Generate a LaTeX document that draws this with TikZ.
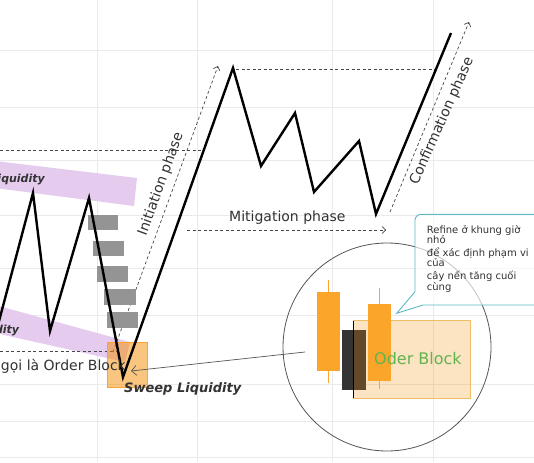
\documentclass[tikz,border=0pt]{standalone}
\usepackage{fontspec}
\setmainfont{DejaVu Sans}
\usetikzlibrary{arrows.meta}
\definecolor{gridc}{RGB}{234,234,234}
\definecolor{lav}{RGB}{229,204,238}
\definecolor{obor}{RGB}{245,140,0}
\definecolor{candle}{RGB}{251,165,42}
\definecolor{obbord}{RGB}{238,190,100}
\definecolor{darkc}{RGB}{52,52,52}
\definecolor{callc}{RGB}{95,185,196}
\definecolor{txt}{RGB}{50,50,50}
\definecolor{dashc}{RGB}{70,70,70}
\definecolor{obgreen}{RGB}{98,180,78}
\definecolor{grayb}{RGB}{148,148,148}
\definecolor{circc}{RGB}{85,85,85}
\begin{document}
\begin{tikzpicture}[x=1pt,y=-1pt,
  gridline/.style={draw=gridc,line width=0.6pt},
  dsh/.style={draw=dashc,line width=0.7pt,dash pattern=on 3pt off 2.5pt},
  tipb/.style={-{Straight Barb[length=3.5pt,width=7pt]}},
  price/.style={draw=black,line width=2.4pt,line join=miter,miter limit=10},
  lbl/.style={inner sep=0pt,text=txt,font=\fontsize{14}{16}\selectfont},
  liq/.style={inner sep=0pt,text=txt,font=\fontsize{11}{13}\selectfont\bfseries\itshape},
  note/.style={inner sep=0pt,anchor=base west,text=txt,font=\fontsize{10}{11}\selectfont},
  gbox/.style={fill=grayb},
  wick/.style={draw=candle,line width=1.5pt}]
\useasboundingbox (0,0) rectangle (534,462);
\clip (0,0) rectangle (534,462);
\fill[white] (0,0) rectangle (534,462);
% grid
\foreach \gx in {97,197,332,433} \draw[gridline] (\gx,0) -- (\gx,462);
\foreach \gy in {50,107,160,215,268,315,384,421,457} \draw[gridline] (0,\gy) -- (534,\gy);
% liquidity bands
\fill[lav] (-5,161) -- (137,178) -- (134,206) -- (-5,188) -- cycle;
\fill[lav] (-5,305) -- (130,342) -- (125,362) -- (-5,333) -- cycle;
\node[liq,anchor=base east] (liqtop) at (45,182.7) {Liquidity};
\node[liq,anchor=base east] (liqbot) at (19.3,333.3) {Liquidity};
% coordinates
\coordinate (z0) at (-6,340);
\coordinate (z1) at (33,193);
\coordinate (z2) at (50,331);
\coordinate (z3) at (89,198);
\coordinate (z4) at (123,377);
\coordinate (z5) at (233,68);
\coordinate (z6) at (261,166);
\coordinate (z7) at (295,113);
\coordinate (z8) at (314,192);
\coordinate (z9) at (359,141);
\coordinate (z10) at (376,214);
\coordinate (z11) at (451,33);
\coordinate (h1a) at (0,150); \coordinate (h1b) at (202,150);
\coordinate (h2a) at (0,351); \coordinate (h2b) at (117,351);
\coordinate (h3a) at (236,69); \coordinate (h3b) at (437,69);
\coordinate (ia) at (113,352); \coordinate (ib) at (218,66);
\coordinate (ma) at (187,230); \coordinate (mb) at (386,230);
\coordinate (ca) at (390,212); \coordinate (cb) at (469,22);
% dashed guides
\draw[dsh] (h1a) -- (h1b);
\draw[dsh] (h2a) -- (h2b);
\draw[dsh] (h3a) -- (h3b);
\draw[dsh,tipb] (ia) -- (ib);
\draw[dsh,tipb] (ma) -- (mb);
\draw[dsh,tipb] (ca) -- (cb);
% gray boxes
\fill[gbox] (88,215) rectangle (118,230);
\fill[gbox] (93,241) rectangle (124,256);
\fill[gbox] (97,266) rectangle (128,282);
\fill[gbox] (104,289) rectangle (136,305);
\fill[gbox] (107,312) rectangle (138,328);
% sweep box
\filldraw[fill=obor,fill opacity=0.5,draw=candle,line width=0.6pt] (107,342) rectangle (147,387);
% price path
\draw[price] (z0) -- (z1) -- (z2) -- (z3) -- (z4) -- (z5) -- (z6) -- (z7) -- (z8) -- (z9) -- (z10) -- (z11);
% labels
\node[lbl,anchor=base east] (ob) at (126,370.5) {gọi là Order Block};
\node[inner sep=0pt,text=txt,font=\fontsize{13}{15}\selectfont\bfseries\itshape,anchor=base west] (sweep) at (124,392) {Sweep Liquidity};
\node[lbl,anchor=base west] (mit) at (229,221.7) {Mitigation phase};
\node[lbl,rotate=70] (init) at (161,184) {Initiation phase};
\node[lbl,rotate=66] (conf) at (442,121) {Confirmation phase};
% zoom circle
\node[circle,draw=circc,line width=0.8pt,minimum size=208pt,inner sep=0pt] (zoomc) at (387,347) {};
\coordinate (a0) at (305,352); \coordinate (a1) at (131,371);
\draw[circc,line width=0.7pt,-{Straight Barb[length=5pt,width=10pt]}] (a0) -- (a1);
% candles
\draw[wick] (328.7,280) -- (328.7,382.7);
\fill[candle] (317.3,291.7) rectangle (340,370.7);
\fill[darkc] (342.3,330) rectangle (365.7,390);
\fill[obor,fill opacity=0.24] (353.3,320.7) rectangle (470,398.3);
\draw[obbord,line width=0.9pt] (353.3,320.7) rectangle (470,398.3);
\draw[black,line width=1.3pt] (353.3,320.7) -- (353.3,398.3);
\draw[wick] (379.3,288.3) -- (379.3,389.3);
\fill[candle] (367.7,304) rectangle (390.7,380.7);
\node[inner sep=0pt,font=\fontsize{16}{18}\selectfont,text=obgreen] (obt) at (418,359) {Oder Block};
% callout
\path[draw=callc,line width=0.9pt,fill=white,fill opacity=0.65] (415,291.7) [rounded corners=6pt] -- (415,214.3) -- (545,214.3) -- (545,305) [sharp corners] -- (423,305) -- (396.7,313.3) -- cycle;
\node[note] (n1) at (426.7,233.3) {Refine ở khung giờ};
\node[note] (n2) at (426.7,243.3) {nhỏ};
\node[note] (n3) at (426.7,256.7) {để xác định phạm vi};
\node[note] (n4) at (426.7,266.7) {của};
\node[note] (n5) at (426.7,279) {cây nến tăng cuối};
\node[note] (n6) at (426.7,290) {cùng};
\end{tikzpicture}
\end{document}
